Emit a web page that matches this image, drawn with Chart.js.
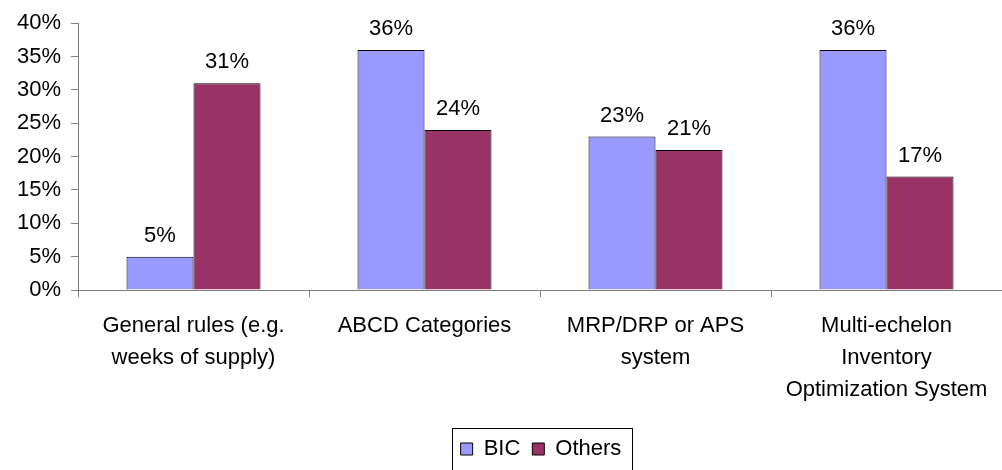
<!DOCTYPE html>
<html lang="en">
<head>
  <meta charset="UTF-8" />
  <title>Inventory planning methods</title>
  <script src="https://cdn.jsdelivr.net/npm/chart.js"></script>
  <style>
    html, body { margin: 0; padding: 0; background: white; }
    #chart { display: block; }
  </style>
</head>
<body>
  <canvas id="chart" width="1002" height="470"></canvas>

  <script>
    // data
    const categories = [
      ["General rules (e.g.", "weeks of supply)"],
      ["ABCD Categories"],
      ["MRP/DRP or APS", "system"],
      ["Multi-echelon", "Inventory", "Optimization System"]
    ];
    const bicValues = [5, 36, 23, 36];
    const othersValues = [31, 24, 21, 17];
    const seriesNames = ["BIC", "Others"];
    const yTicks = [0, 5, 10, 15, 20, 25, 30, 35, 40];

    const FONT = "'Liberation Sans', Arial, sans-serif";
    const FSIZE = 22;
    const LEGEND_SHIFT = 40; // legend sits a bit right of centre in the original

    // value labels on top of each bar
    const barLabels = {
      id: "barLabels",
      afterDatasetsDraw(chart) {
        const ctx = chart.ctx;
        ctx.save();
        ctx.font = FSIZE + "px " + FONT;
        ctx.fillStyle = "#000";
        ctx.textAlign = "center";
        ctx.textBaseline = "alphabetic";
        chart.data.datasets.forEach((ds, i) => {
          chart.getDatasetMeta(i).data.forEach((bar, j) => {
            ctx.fillText(ds.data[j] + "%", bar.x, bar.y - 15);
          });
        });
        ctx.restore();
      }
    };

    // box round the legend items (bottom edge runs off the picture)
    const legendBox = {
      id: "legendBox",
      afterDraw(chart) {
        const boxes = chart.legend.legendHitBoxes;
        if (!boxes || !boxes.length) return;
        const left = Math.min(...boxes.map(b => b.left)) - 9 + LEGEND_SHIFT;
        const right = Math.max(...boxes.map(b => b.left + b.width)) + 10 + LEGEND_SHIFT;
        const top = Math.min(...boxes.map(b => b.top)) - 10;
        const ctx = chart.ctx;
        ctx.save();
        ctx.strokeStyle = "#000";
        ctx.lineWidth = 1;
        ctx.strokeRect(Math.round(left) + 0.5, Math.round(top) + 0.5, Math.round(right - left), 60);
        ctx.restore();
      }
    };

    const chart = new Chart(document.getElementById("chart"), {
      type: "bar",
      data: {
        labels: categories,
        datasets: [
          {
            label: seriesNames[0],
            data: bicValues,
            backgroundColor: "#9999FF",
            borderColor: "#000",
            borderWidth: 1
          },
          {
            label: seriesNames[1],
            data: othersValues,
            backgroundColor: "#993366",
            borderColor: "#000",
            borderWidth: 1
          }
        ]
      },
      options: {
        responsive: false,
        animation: false,
        layout: { padding: { left: 0, right: 0, top: 8, bottom: 0 } },
        datasets: {
          bar: { categoryPercentage: 0.58, barPercentage: 1.0 }
        },
        scales: {
          x: {
            afterFit(axis) { axis.height = 136; },
            grid: { display: true, offset: true, drawOnChartArea: false, tickLength: 7, color: "#808080" },
            border: { color: "#808080" },
            ticks: {
              color: "#000",
              font: { family: FONT, size: FSIZE, lineHeight: 1.45 },
              maxRotation: 0,
              autoSkip: false,
              padding: 13
            }
          },
          y: {
            min: 0,
            max: 40,
            afterBuildTicks(axis) { axis.ticks = yTicks.map(v => ({ value: v })); },
            afterFit(axis) { axis.width = 78; },
            grid: { drawOnChartArea: false, tickLength: 7, color: "#808080" },
            border: { color: "#808080" },
            ticks: {
              color: "#000",
              font: { family: FONT, size: FSIZE },
              padding: 10,
              callback: v => v + "%"
            }
          }
        },
        plugins: {
          tooltip: { enabled: false },
          legend: {
            position: "bottom",
            labels: {
              color: "#000",
              font: { family: FONT, size: FSIZE },
              boxWidth: 12,
              boxHeight: 12,
              padding: 12
            }
          }
        }
      },
      plugins: [barLabels, legendBox]
    });

    // nudge the legend to the right
    const legendDraw = chart.legend.draw.bind(chart.legend);
    chart.legend.draw = function () {
      chart.ctx.save();
      chart.ctx.translate(LEGEND_SHIFT, 0);
      legendDraw();
      chart.ctx.restore();
    };
    chart.draw();
  </script>
</body>
</html>
